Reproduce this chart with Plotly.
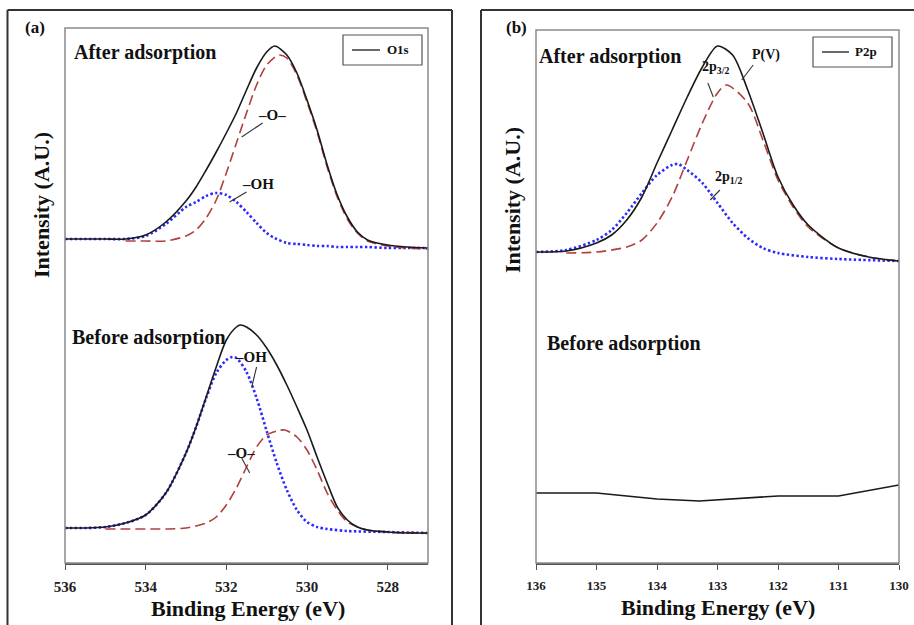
import plotly.graph_objects as go

W, H = 914, 625

# ---------------- data: panel (a) O1s ----------------
ev_a_after = [536, 535.5, 535, 534.5, 534, 533.5, 533, 532.75, 532.5, 532.25, 532, 531.75, 531.5,
              531.25, 531, 530.8, 530.5, 530.25, 530, 529.75, 529.5, 529.25, 529, 528.75, 528.5,
              528, 527.5, 527]
o1s_after_total = [324, 324, 324, 324, 328, 341, 362, 376, 393, 411, 430, 450, 473, 495, 511, 517,
                   508, 490, 463, 433, 398, 368, 346, 331, 323, 318, 316, 315]
o1s_after_oh = [324, 324, 324, 324, 327, 339, 356, 361, 367, 370, 368, 361, 351, 340, 330, 325,
                320, 319, 318, 317, 317, 316, 316, 316, 316, 315, 315, 315]
ev_a_after_o = [534.5, 534, 533.5, 533, 532.75, 532.5, 532.25, 532, 531.75, 531.5, 531.25, 531,
                530.7, 530.5, 530.25, 530, 529.75, 529.5, 529.25, 529, 528.75, 528.5, 528, 527.5, 527]
o1s_after_o = [322, 322, 322, 327, 333, 345, 363, 390, 420, 450, 478, 498, 508, 505, 488, 461,
               431, 396, 366, 344, 330, 322, 317, 315, 314]

ev_a_before = [536, 535.5, 535, 534.5, 534, 533.5, 533, 532.75, 532.5, 532.25, 532, 531.75, 531.65,
               531.5, 531.25, 531, 530.75, 530.5, 530.25, 530, 529.75, 529.5, 529.25, 529, 528.75,
               528.5, 528, 527.5, 527]
o1s_before_total = [35, 35, 36, 40, 48, 70, 110, 136, 166, 196, 223, 236, 238, 236, 228, 215, 198,
                    178, 156, 133, 106, 80, 56, 43, 36, 33, 31, 30, 30]
ev_a_before_oh = [536, 535.5, 535, 534.5, 534, 533.5, 533, 532.75, 532.5, 532.25, 532, 531.85,
                  531.75, 531.5, 531.25, 531, 530.75, 530.5, 530.25, 530, 529.75, 529.5, 529, 528, 527]
o1s_before_oh = [35, 35, 36, 40, 48, 70, 110, 136, 165, 190, 203, 206, 205, 191, 165, 132, 100,
                 73, 53, 41, 36, 34, 32, 31, 30]
ev_a_before_o = [535, 534.5, 534, 533.5, 533, 532.5, 532.25, 532, 531.75, 531.5, 531.25, 531,
                 530.75, 530.55, 530.25, 530, 529.75, 529.5, 529.25, 529, 528.75, 528.5, 528, 527]
o1s_before_o = [34, 34, 34, 34, 35, 40, 46, 58, 75, 96, 116, 128, 132, 133, 126, 113, 93, 70, 53,
                41, 36, 33, 31, 30]

# ---------------- data: panel (b) P2p ----------------
ev_b_after = [136, 135.5, 135, 134.75, 134.5, 134.25, 134, 133.75, 133.5, 133.25, 133, 132.75,
              132.5, 132.25, 132, 131.75, 131.5, 131, 130.5, 130]
p2p_after_total = [311, 312, 320, 328, 343, 366, 400, 433, 466, 496, 517, 508, 473, 430, 386, 358,
                   338, 315, 306, 302]
ev_b_p32 = [135.5, 135, 134.5, 134.25, 134, 133.75, 133.5, 133.25, 133, 132.85, 132.5, 132.25,
            132, 131.75, 131.5, 131, 130.5, 130]
p2p_32 = [310, 311, 316, 323, 340, 366, 403, 440, 470, 478, 460, 423, 383, 356, 336, 315, 306, 302]
ev_b_p12 = [136, 135.5, 135, 134.75, 134.5, 134.25, 134, 133.75, 133.65, 133.5, 133.25, 133,
            132.75, 132.5, 132.25, 132, 131.5, 131, 130]
p2p_12 = [311, 313, 323, 333, 350, 370, 388, 398, 399, 393, 380, 360, 340, 325, 315, 310, 306,
          304, 302]
ev_b_before = [136, 135, 134, 133.3, 132, 131, 130]
p2p_before = [70, 70, 64, 62, 67, 67, 78]

ticks_a = [536, 534, 532, 530, 528]
ticks_b = [136, 135, 134, 133, 132, 131, 130]

# ---------------- styling ----------------
SERIF = "Liberation Serif, Times New Roman, serif"
BLACK = "#1a1a1a"
RED = "#b0403c"
BLUE = "#2a2aff"


def px(x):
    return x / W


def py(y):
    return 1 - y / H


fig = go.Figure()

def solid(x, y, xa, ya, shape="spline"):
    fig.add_trace(go.Scatter(x=x, y=y, mode="lines", xaxis=xa, yaxis=ya,
                             line=dict(color=BLACK, width=1.6, shape=shape, smoothing=0.8),
                             showlegend=False, hoverinfo="skip"))

def dashed(x, y, xa, ya):
    fig.add_trace(go.Scatter(x=x, y=y, mode="lines", xaxis=xa, yaxis=ya,
                             line=dict(color=RED, width=1.6, dash="10px,5px", shape="spline",
                                       smoothing=0.8),
                             showlegend=False, hoverinfo="skip"))

def dotted(x, y, xa, ya):
    fig.add_trace(go.Scatter(x=x, y=y, mode="lines", xaxis=xa, yaxis=ya,
                             line=dict(color=BLUE, width=2.6, dash="2.4px,2.4px", shape="spline",
                                       smoothing=0.8),
                             showlegend=False, hoverinfo="skip"))

# panel a
dotted(ev_a_after, o1s_after_oh, "x", "y")
dashed(ev_a_after_o, o1s_after_o, "x", "y")
solid(ev_a_after, o1s_after_total, "x", "y")
dotted(ev_a_before_oh, o1s_before_oh, "x", "y")
dashed(ev_a_before_o, o1s_before_o, "x", "y")
solid(ev_a_before, o1s_before_total, "x", "y")
# panel b
dotted(ev_b_p12, p2p_12, "x2", "y2")
dashed(ev_b_p32, p2p_32, "x2", "y2")
solid(ev_b_after, p2p_after_total, "x2", "y2")
solid(ev_b_before, p2p_before, "x2", "y2", shape="linear")

axis_common = dict(showgrid=False, zeroline=False, showline=True, linecolor="#555",
                   linewidth=1.5, ticks="outside", ticklen=5, tickwidth=1.2, tickcolor="#555",
                   automargin=False)
yaxis_common = dict(showticklabels=False, showgrid=False, zeroline=False, showline=False,
                    ticks="", automargin=False)

fig.update_layout(
    width=W, height=H, margin=dict(l=0, r=0, t=0, b=0, pad=0, autoexpand=False),
    paper_bgcolor="white", plot_bgcolor="white",
    font=dict(family=SERIF),
    xaxis=dict(domain=[px(65), px(428)], range=[536, 527], tickvals=ticks_a, anchor="y",
               tickfont=dict(family=SERIF, size=15, color="#222", weight="bold"),
               ticklabelstandoff=4, **axis_common),
    yaxis=dict(domain=[py(563), py(28)], range=[0, 535], anchor="x", **yaxis_common),
    xaxis2=dict(domain=[px(536), px(899)], range=[136, 130], tickvals=ticks_b, anchor="y2",
                tickfont=dict(family=SERIF, size=13, color="#222", weight="bold"),
                ticklabelstandoff=5, **axis_common),
    yaxis2=dict(domain=[py(563), py(30)], range=[0, 533], anchor="x2", **yaxis_common),
)

shapes = []
# plot-area frames
for xr, yr in (("x", "y"), ("x2", "y2")):
    shapes.append(dict(type="rect", xref=xr + " domain", yref=yr + " domain", x0=0, x1=1, y0=0,
                       y1=1, line=dict(color="#8a8a8a", width=1.5), layer="above"))
# outer panel boxes (open at the bottom, where the picture is cut)
def seg(x0, y0, x1, y1, color="#333", width=2):
    shapes.append(dict(type="line", xref="paper", yref="paper", x0=px(x0), y0=py(y0),
                       x1=px(x1), y1=py(y1), line=dict(color=color, width=width)))

seg(7.5, 10, 7.5, 625)
seg(7.5, 10, 452, 10)
seg(452, 10, 452, 625)
seg(481, 10, 481, 625)
seg(481, 10, 914, 10)

# legend boxes
for (bx0, by0, bx1, by1, lx0, lx1, ly) in ((343, 35, 422, 65, 352, 380, 50),
                                           (813, 37, 892, 67, 822, 849, 52)):
    shapes.append(dict(type="rect", xref="paper", yref="paper", x0=px(bx0), x1=px(bx1),
                       y0=py(by1), y1=py(by0), line=dict(color="#555", width=1.2)))
    shapes.append(dict(type="line", xref="paper", yref="paper", x0=px(lx0), x1=px(lx1),
                       y0=py(ly), y1=py(ly), line=dict(color=BLACK, width=1.3)))

# leader lines (data coordinates)
leaders = [
    ("x", "y", 531.62, 426, 531.10, 440),
    ("x", "y", 531.92, 361, 531.50, 371),
    ("x", "y", 531.37, 176, 531.25, 196),
    ("x", "y", 531.62, 105, 531.42, 90),
    ("x2", "y2", 132.60, 483, 132.41, 498),
    ("x2", "y2", 133.07, 466, 133.16, 480),
    ("x2", "y2", 133.12, 363, 132.96, 373),
]
for xr, yr, x0, y0, x1, y1 in leaders:
    shapes.append(dict(type="line", xref=xr, yref=yr, x0=x0, y0=y0, x1=x1, y1=y1,
                       line=dict(color="#333", width=1.1)))
fig.update_layout(shapes=shapes)


def ann(text, x, y, size, xref="paper", yref="paper", xanchor="center", textangle=0,
        color="#111"):
    fig.add_annotation(text=text, x=x, y=y, xref=xref, yref=yref, xanchor=xanchor,
                       yanchor="middle", showarrow=False, textangle=textangle, borderpad=0,
                       font=dict(family=SERIF, size=size, color=color, weight="bold"))

# panel tags
ann("(a)", px(35), py(27), 17)
ann("(b)", px(516), py(27), 17)
# after/before labels
ann("After adsorption", px(73), py(53), 20, xanchor="left")
ann("Before adsorption", px(71), py(337), 20, xanchor="left")
ann("After adsorption", px(538), py(56), 20, xanchor="left")
ann("Before adsorption", px(546), py(343), 20, xanchor="left")
# axis titles
ann("Binding Energy (eV)", px(248), py(608), 22)
ann("Binding Energy (eV)", px(718), py(607), 22)
ann("Intensity (A.U.)", px(41), py(205), 22, textangle=-90)
ann("Intensity (A.U.)", px(512), py(200), 22, textangle=-90)
# legends text
ann("O1s", px(386), py(50), 13, xanchor="left")
ann("P2p", px(854), py(52), 13, xanchor="left")
# peak labels
ann("–O–", 530.88, 448, 15, xref="x", yref="y")
ann("–OH", 531.22, 379, 15, xref="x", yref="y")
ann("–OH", 531.40, 206, 15, xref="x", yref="y")
ann("–O–", 531.64, 110, 15, xref="x", yref="y")
ann("P(V)", 132.20, 508, 14, xref="x2", yref="y2")
ann("2p<sub>3/2</sub>", 133.04, 496, 14, xref="x2", yref="y2")
ann("2p<sub>1/2</sub>", 132.81, 386, 14, xref="x2", yref="y2")

fig.write_html("out.html")
